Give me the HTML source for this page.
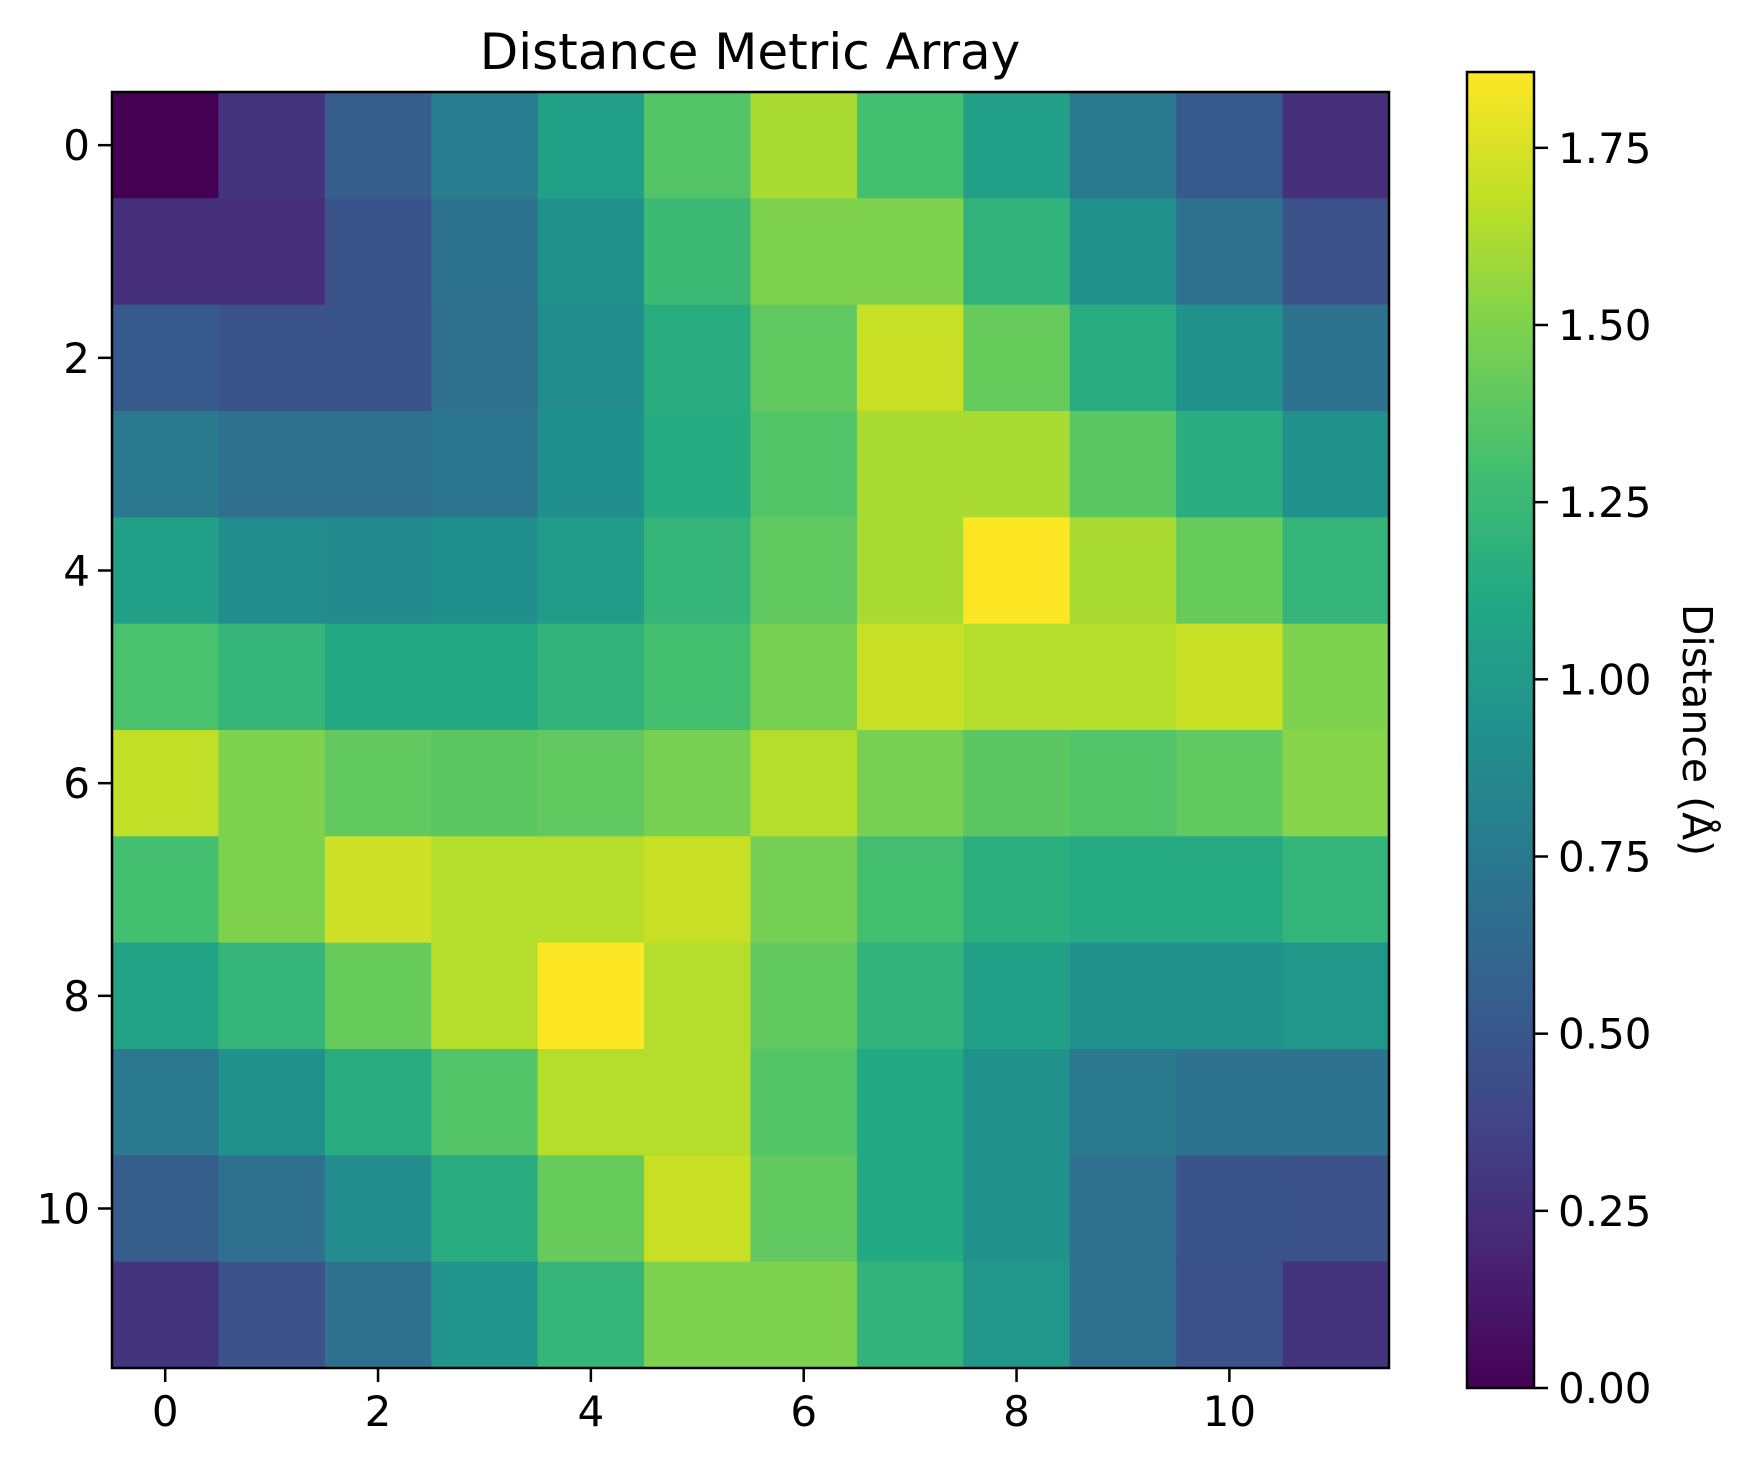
<!DOCTYPE html>
<html><head><meta charset="utf-8"><style>
html,body{margin:0;padding:0;background:#fff;}
svg text{font-family:"DejaVu Sans","Liberation Sans",sans-serif;fill:#000;}
</style></head><body>
<svg id="chart" width="1747" height="1467" xmlns="http://www.w3.org/2000/svg">
<defs><linearGradient id="cbgrad" x1="0" y1="1" x2="0" y2="0"></linearGradient></defs>
<text x="750" y="69" font-size="50" text-anchor="middle">Distance Metric Array</text>
<g id="cells"></g>
<rect x="112" y="92" width="1277" height="1276" fill="none" stroke="#000" stroke-width="2.5"/>
<g id="xticks"></g>
<g id="yticks"></g>
<rect x="1467" y="72" width="67" height="1316" fill="url(#cbgrad)" stroke="#000" stroke-width="2.5"/>
<g id="cbticks"></g>
<text transform="translate(1683,730) rotate(90)" font-size="41" text-anchor="middle">Distance (Å)</text>
</svg>
<script>
const rowLabels = [0,1,2,3,4,5,6,7,8,9,10,11];
const xTickValues = [0,2,4,6,8,10];
const yTickValues = [0,2,4,6,8,10];
const cbTickValues = [0,0.25,0.5,0.75,1.0,1.25,1.5,1.75];
const cbTickLabels = ["0.00","0.25","0.50","0.75","1.00","1.25","1.50","1.75"];
const vmin = 0, vmax = 1.857;
const row0 = [0,0.28,0.55,0.78,1.05,1.35,1.62,1.3,1.04,0.75,0.52,0.25];
const row1 = [0.25,0.25,0.48,0.7,0.93,1.25,1.5,1.5,1.2,0.93,0.68,0.46];
const row2 = [0.52,0.48,0.48,0.68,0.9,1.15,1.4,1.7,1.42,1.15,0.93,0.7];
const row3 = [0.75,0.68,0.68,0.72,0.92,1.14,1.35,1.62,1.62,1.38,1.15,0.93];
const row4 = [1.05,0.9,0.88,0.92,1.02,1.22,1.4,1.62,1.857,1.62,1.42,1.22];
const row5 = [1.32,1.22,1.12,1.12,1.2,1.3,1.48,1.7,1.65,1.65,1.7,1.5];
const row6 = [1.68,1.5,1.4,1.38,1.4,1.48,1.65,1.48,1.38,1.35,1.4,1.52];
const row7 = [1.3,1.5,1.72,1.65,1.65,1.7,1.47,1.3,1.17,1.13,1.13,1.22];
const row8 = [1.07,1.22,1.42,1.65,1.857,1.65,1.4,1.2,1.05,0.93,0.93,0.98];
const row9 = [0.75,0.93,1.15,1.35,1.65,1.65,1.35,1.12,0.93,0.75,0.7,0.7];
const row10 = [0.55,0.68,0.9,1.15,1.42,1.7,1.4,1.12,0.93,0.68,0.48,0.46];
const row11 = [0.28,0.47,0.68,0.95,1.22,1.5,1.5,1.2,0.98,0.68,0.46,0.28];
const values = [row0,row1,row2,row3,row4,row5,row6,row7,row8,row9,row10,row11];

const VIR = ["#440154","#482475","#414487","#355f8d","#2a788e","#21918c","#22a884","#44bf70","#7ad151","#bddf26","#fde725"];
function hex(h){return [1,3,5].map(i=>parseInt(h.substr(i,2),16));}
function viridis(t){
  t=Math.max(0,Math.min(1,t));const p=t*(VIR.length-1);const i=Math.min(Math.floor(p),VIR.length-2);const f=p-i;
  const a=hex(VIR[i]),b=hex(VIR[i+1]);
  return "rgb("+a.map((v,k)=>Math.round(v+(b[k]-v)*f)).join(",")+")";
}
const NS="http://www.w3.org/2000/svg";
const PX0=112,PX1=1389,PY0=92,PY1=1368;
const nCols=values[0].length,nRows=values.length;
const cw=(PX1-PX0)/nCols,ch=(PY1-PY0)/nRows;
const xPos=c=>PX0+(c+0.5)*cw;
const yPos=r=>PY0+(r+0.5)*ch;
const CB0=1388,CB1=72;
const cbY=v=>CB0-(v-vmin)/(vmax-vmin)*(CB0-CB1);

const cells=document.getElementById('cells');
values.forEach((row,r)=>row.forEach((v,c)=>{
  const el=document.createElementNS(NS,'rect');
  
  
  el.setAttribute('x',(xPos(c)-cw/2).toFixed(2));
  el.setAttribute('y',(yPos(r)-ch/2).toFixed(2));
  el.setAttribute('width',(cw+0.6).toFixed(2));
  el.setAttribute('height',(ch+0.6).toFixed(2));
  el.setAttribute('fill',viridis((v-vmin)/(vmax-vmin)));
  cells.appendChild(el);
}));

const grad=document.getElementById('cbgrad');
for(let i=0;i<VIR.length;i++){
  const s=document.createElementNS(NS,'stop');
  s.setAttribute('offset',(i/(VIR.length-1)));
  s.setAttribute('stop-color',VIR[i]);
  grad.appendChild(s);
}

function line(g,x1,y1,x2,y2,name){
  const l=document.createElementNS(NS,'line');
  
  
  l.setAttribute('x1',x1);l.setAttribute('y1',y1);l.setAttribute('x2',x2);l.setAttribute('y2',y2);
  l.setAttribute('stroke','#000');l.setAttribute('stroke-width','2.5');
  g.appendChild(l);
}
function text(g,x,y,s,anchor,name){
  const t=document.createElementNS(NS,'text');
  
  
  t.setAttribute('x',x);t.setAttribute('y',y);t.setAttribute('font-size','42');
  t.setAttribute('text-anchor',anchor);t.textContent=s;g.appendChild(t);
}
const xg=document.getElementById('xticks');
xTickValues.forEach(v=>{const x=xPos(v);line(xg,x,PY1,x,PY1+14,'x-tick');text(xg,x,PY1+58,String(v),'middle','x-tick-label');});
const yg=document.getElementById('yticks');
yTickValues.forEach(v=>{const y=yPos(v);line(yg,PX0-14,y,PX0,y,'y-tick');text(yg,PX0-22,y+15,String(v),'end','y-tick-label');});
const cg=document.getElementById('cbticks');
cbTickValues.forEach((v,i)=>{const y=cbY(v);line(cg,1534,y,1548,y,'colorbar-tick');text(cg,1558,y+15,cbTickLabels[i],'start','colorbar-tick-label');});
</script>
</body></html>
